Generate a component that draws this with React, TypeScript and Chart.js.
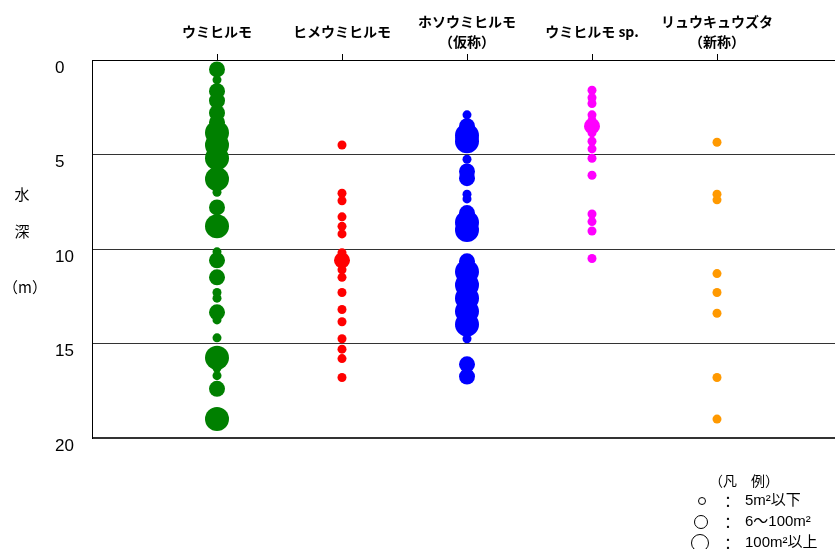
import React, { useEffect, useRef } from "react";
import { Chart, registerables } from "chart.js";

Chart.register(...registerables);

// ---- data ----
const categories: (string | string[])[] = [
  "ウミヒルモ",
  "ヒメウミヒルモ",
  ["ホソウミヒルモ", "（仮称）"],
  "ウミヒルモ sp.",
  ["リュウキュウズタ", "（新称）"],
];
const depthTicks = [0, 5, 10, 15, 20];

// coverage class: 1 = 5m²以下, 2 = 6～100m², 3 = 100m²以上
const umihirumoDepth = [0.5, 1.05, 1.65, 2.15, 2.8, 3.3, 3.85, 4.5, 5.2, 6.3, 7.0, 7.8, 8.8, 10.15, 10.6, 11.5, 12.3, 12.6, 13.35, 13.75, 14.7, 15.75, 16.3, 16.7, 17.4, 19.0];
const umihirumoClass = [2, 1, 2, 2, 2, 2, 3, 3, 3, 3, 1, 2, 3, 1, 2, 2, 1, 1, 2, 1, 1, 3, 1, 1, 2, 3];

const himeDepth = [4.5, 7.05, 7.45, 8.3, 8.8, 9.2, 10.2, 10.6, 11.1, 11.5, 12.3, 13.2, 13.85, 14.75, 15.3, 15.8, 16.8];
const himeClass = [1, 1, 1, 1, 1, 1, 1, 2, 1, 1, 1, 1, 1, 1, 1, 1, 1];

const hosoDepth = [2.9, 3.5, 4.0, 4.3, 5.25, 5.9, 6.25, 7.1, 7.35, 8.1, 8.6, 9.0, 10.65, 11.2, 11.9, 12.6, 13.3, 14.0, 14.75, 16.1, 16.75];
const hosoClass = [1, 2, 3, 3, 1, 2, 2, 1, 1, 2, 3, 3, 2, 3, 3, 3, 3, 3, 1, 2, 2];

const spDepth = [1.6, 2.0, 2.3, 2.9, 3.2, 3.5, 3.85, 4.3, 4.7, 5.2, 6.1, 8.15, 8.55, 9.05, 10.5];
const spClass = [1, 1, 1, 1, 1, 2, 1, 1, 1, 1, 1, 1, 1, 1, 1];

const ryukyuDepth = [4.35, 7.1, 7.4, 11.3, 12.3, 13.4, 16.8, 19.0];
const ryukyuClass = [1, 1, 1, 1, 1, 1, 1, 1];

const legendTitle = "（凡　例）";
const legendLabels = ["5m²以下", "6～100m²", "100m²以上"];
const yTitle = ["水", "深", "（m）"];

// ---- styling ----
const radiusOf: Record<number, number> = { 1: 4.5, 2: 8, 3: 12 };
const CJK = '"Noto Sans CJK JP", "Noto Sans", sans-serif';

function makeSet(pos: number, depths: number[], classes: number[], color: string) {
  return {
    label: String(pos),
    data: depths.map((d) => ({ x: pos, y: d })),
    pointRadius: classes.map((c) => radiusOf[c]),
    pointHoverRadius: classes.map((c) => radiusOf[c]),
    pointBackgroundColor: color,
    pointBorderWidth: 0,
    backgroundColor: color,
    borderColor: color,
    showLine: false,
  };
}

const overlayPlugin = {
  id: "overlay",
  afterDraw(chart: any) {
    const ctx = chart.ctx as CanvasRenderingContext2D;
    ctx.save();
    ctx.fillStyle = "#000";
    ctx.textAlign = "center";
    ctx.textBaseline = "middle";
    ctx.font = `15px ${CJK}`;
    // y-axis title, stacked vertically
    ctx.fillText(yTitle[0], 22, 194);
    ctx.fillText(yTitle[1], 22, 231);
    ctx.fillText(yTitle[2], 25, 287);

    // legend
    ctx.font = `14px ${CJK}`;
    ctx.fillText(legendTitle, 744, 481);
    const rows = [
      { y: 501, r: 3.5, cx: 702 },
      { y: 522, r: 6.5, cx: 701 },
      { y: 543, r: 8.5, cx: 700 },
    ];
    ctx.strokeStyle = "#000";
    ctx.lineWidth = 1;
    rows.forEach((row, i) => {
      ctx.beginPath();
      ctx.arc(row.cx, row.y, row.r, 0, Math.PI * 2);
      ctx.stroke();
      ctx.textAlign = "center";
      ctx.font = `15px ${CJK}`;
      ctx.fillText("：", 728, row.y);
      ctx.textAlign = "left";
      ctx.font = `15px "Liberation Sans", ${CJK}`;
      ctx.fillText(legendLabels[i], 745, row.y);
    });
    ctx.restore();
  },
};

export default function App() {
  const ref = useRef<HTMLCanvasElement | null>(null);

  useEffect(() => {
    if (!ref.current) return;
    const chart = new Chart(ref.current, {
      type: "scatter",
      data: {
        datasets: [
          makeSet(1, umihirumoDepth, umihirumoClass, "#008000"),
          makeSet(2, himeDepth, himeClass, "#FF0000"),
          makeSet(3, hosoDepth, hosoClass, "#0000FF"),
          makeSet(4, spDepth, spClass, "#FF00FF"),
          makeSet(5, ryukyuDepth, ryukyuClass, "#FF9900"),
        ],
      },
      options: {
        animation: false,
        responsive: false,
        layout: { autoPadding: false, padding: { left: 55, top: 0, right: 0, bottom: 111 } },
        plugins: {
          legend: { display: false },
          tooltip: { enabled: false },
          title: { display: false },
        },
        scales: {
          x: {
            type: "linear",
            position: "top",
            min: 0,
            max: 5.944,
            afterBuildTicks: (scale: any) => {
              scale.ticks = categories.map((_, i) => ({ value: i + 1 }));
            },
            afterFit: (scale: any) => {
              scale.height = 60;
              scale.paddingLeft = 0;
              scale.paddingRight = 0;
              scale.paddingTop = 0;
              scale.paddingBottom = 0;
            },
            grid: {
              drawOnChartArea: false,
              drawTicks: true,
              tickLength: 6,
              color: "#000",
              tickColor: "#000",
            },
            border: { display: true, color: "#000", width: 1 },
            ticks: {
              autoSkip: false,
              maxRotation: 0,
              minRotation: 0,
              padding: 12,
              crossAlign: "center",
              color: "#000",
              font: { family: CJK, size: 14, weight: "bold", lineHeight: 20 / 14 },
              callback: (v: any) => categories[Math.round(v) - 1] ?? "",
            },
          },
          y: {
            type: "linear",
            reverse: true,
            min: 0,
            max: 20,
            afterBuildTicks: (scale: any) => {
              scale.ticks = depthTicks.map((v) => ({ value: v }));
            },
            afterFit: (scale: any) => {
              scale.width = 37;
              scale.paddingLeft = 0;
              scale.paddingRight = 0;
              scale.paddingTop = 0;
              scale.paddingBottom = 0;
            },
            grid: {
              drawTicks: false,
              color: "#333",
              lineWidth: (c: any) => (c.tick && c.tick.value === 20 ? 2 : 1),
            },
            border: { display: true, color: "#000", width: 1 },
            ticks: {
              crossAlign: "far",
              labelOffset: 8,
              padding: 0,
              color: "#000",
              font: { family: '"Liberation Sans", Arial, sans-serif', size: 17 },
              callback: (v: any) => String(v),
            },
          },
        },
      },
      plugins: [overlayPlugin],
    } as any);
    return () => chart.destroy();
  }, []);

  return (
    <div style={{ position: "absolute", left: 0, top: 0, width: 835, height: 549, background: "#fff" }}>
      <canvas ref={ref} width={835} height={549} style={{ display: "block" }} />
    </div>
  );
}
